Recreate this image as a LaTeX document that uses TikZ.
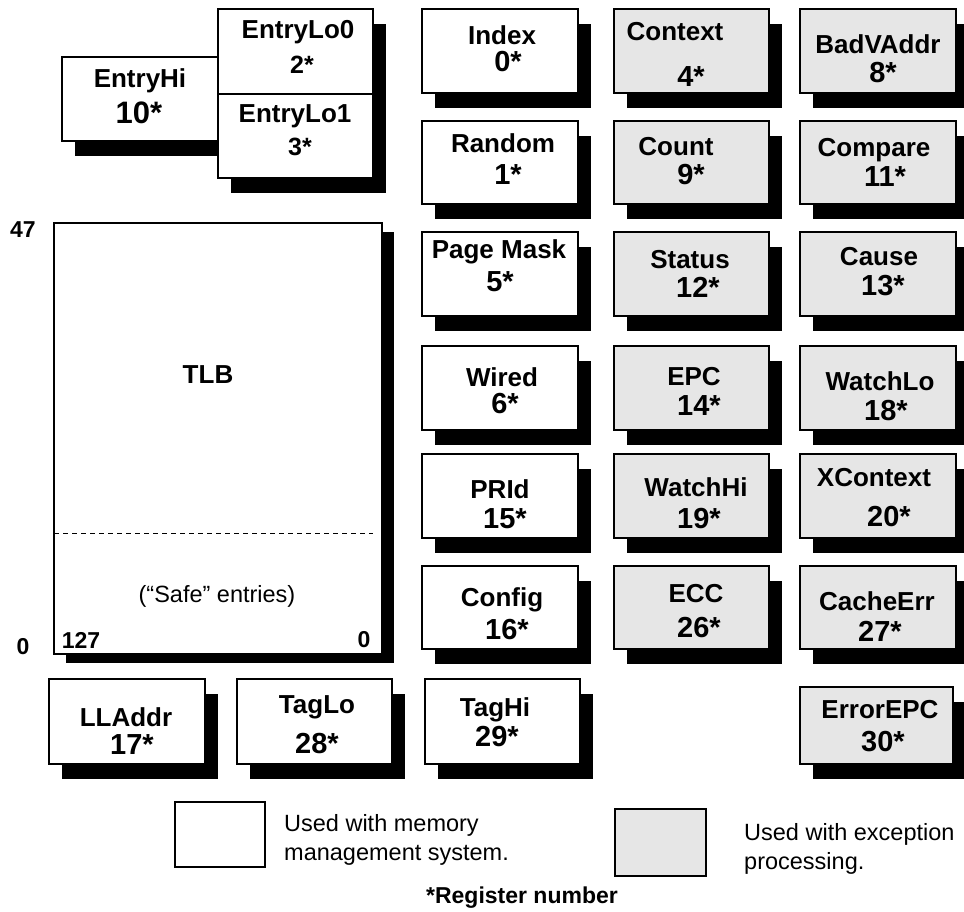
\documentclass[tikz,border=0pt]{standalone}
\usepackage{fontspec}
\setmainfont{Liberation Sans}
\usetikzlibrary{shadows}
\definecolor{excgray}{HTML}{E6E6E6}
\tikzset{
  regbox/.style={draw=black, line width=1.3pt, fill=white, inner sep=0pt, outer sep=0pt,
    drop shadow={shadow xshift=13pt, shadow yshift=-15pt, fill=black, opacity=1}},
  excbox/.style={regbox, fill=excgray},
  tlbbox/.style={draw=black, line width=1.3pt, fill=white, inner sep=0pt, outer sep=0pt,
    drop shadow={shadow xshift=12pt, shadow yshift=-9pt, fill=black, opacity=1}},
  legbox/.style={draw=black, line width=1.3pt, inner sep=0pt, outer sep=0pt},
  nm/.style={inner sep=0pt, font=\fontsize{26}{30}\selectfont\bfseries},
  nv/.style={inner sep=0pt, font=\fontsize{29}{32}\selectfont\bfseries},
  nvbig/.style={inner sep=0pt, font=\fontsize{31}{34}\selectfont\bfseries},
  nvsmall/.style={inner sep=0pt, font=\fontsize{25}{30}\selectfont\bfseries},
  idx/.style={inner sep=0pt, font=\fontsize{23}{28}\selectfont\bfseries},
  plain/.style={inner sep=0pt, font=\fontsize{23.5}{29}\selectfont},
  legtext/.style={inner sep=0pt, align=left, anchor=west, font=\fontsize{23.5}{29}\selectfont},
}
\newcommand\regbox[6]{\node[#6, minimum width={(#4)-(#2)}, minimum height={(#5)-(#3)}] (#1) at ({((#2)+(#4))/2},{((#3)+(#5))/2}) {};}
\begin{document}
\begin{tikzpicture}[x=1pt, y=-1pt]
\clip (0,0) rectangle (964,911);
\fill[white] (0,0) rectangle (964,911);

% EntryHi / EntryLo group
\regbox{entryhi}{62}{57}{218}{141}{regbox}
\regbox{entrylo0}{218}{9}{373}{94}{regbox}
\regbox{entrylo1}{218}{94}{373}{178}{regbox}
\node[nm] (entryhi-n) at (140,81) {EntryHi};
\node[nvbig] (entryhi-v) at (139,113) {10*};
\node[nm] (entrylo0-n) at (298,32) {EntryLo0};
\node[nvsmall] (entrylo0-v) at (302,65) {2*};
\node[nm] (entrylo1-n) at (295,116) {EntryLo1};
\node[nvsmall] (entrylo1-v) at (300,147) {3*};

% TLB
\regbox{tlb}{54}{223}{382}{654}{tlbbox}
\coordinate (safe-l) at (54,533);
\coordinate (safe-r) at (373,533);
\draw[line width=1pt, dash pattern=on 5pt off 4pt] (safe-l) -- (safe-r);
\node[nm] (tlb-n) at (208,375) {TLB};
\node[plain] (tlb-safe) at (217,596) {(“Safe” entries)};
\node[idx] (tlb-127) at (81,640) {127};
\node[idx] (tlb-0in) at (364,640) {0};
\node[idx] (tlb-47) at (23,230) {47};
\node[idx] (tlb-0out) at (23,647) {0};

% Column A (memory management)
\regbox{index}{422}{9}{578}{93}{regbox}
\node[nm] (index-n) at (502,35) {Index};
\node[nv] (index-v) at (508,62) {0*};
\regbox{random}{422}{121}{578}{204}{regbox}
\node[nm] (random-n) at (503,143) {Random};
\node[nv] (random-v) at (508,175) {1*};
\regbox{pagemask}{422}{232}{578}{316}{regbox}
\node[nm] (pagemask-n) at (499,252) {Page Mask};
\node[nv] (pagemask-v) at (500,282) {5*};
\regbox{wired}{422}{346}{578}{430}{regbox}
\node[nm] (wired-n) at (502,377) {Wired};
\node[nv] (wired-v) at (505,404) {6*};
\regbox{prid}{422}{454}{578}{538}{regbox}
\node[nm] (prid-n) at (500,489) {PRId};
\node[nv] (prid-v) at (505,519) {15*};
\regbox{config}{422}{566}{578}{649}{regbox}
\node[nm] (config-n) at (502,600) {Config};
\node[nv] (config-v) at (507,630) {16*};
\regbox{taghi}{425}{679}{580}{764}{regbox}
\node[nm] (taghi-n) at (495,710) {TagHi};
\node[nv] (taghi-v) at (497,737) {29*};

% Column B (exception)
\regbox{context}{614}{9}{769}{93}{excbox}
\node[nm] (context-n) at (675,32) {Context};
\node[nv] (context-v) at (691,77) {4*};
\regbox{count}{614}{121}{769}{204}{excbox}
\node[nm] (count-n) at (676,147) {Count};
\node[nv] (count-v) at (691,175) {9*};
\regbox{status}{614}{232}{769}{316}{excbox}
\node[nm] (status-n) at (690,260) {Status};
\node[nv] (status-v) at (698,287) {12*};
\regbox{epc}{614}{346}{769}{430}{excbox}
\node[nm] (epc-n) at (694,377) {EPC};
\node[nv] (epc-v) at (699,406) {14*};
\regbox{watchhi}{614}{454}{769}{538}{excbox}
\node[nm] (watchhi-n) at (696,487) {WatchHi};
\node[nv] (watchhi-v) at (699,519) {19*};
\regbox{ecc}{614}{566}{769}{649}{excbox}
\node[nm] (ecc-n) at (696,594) {ECC};
\node[nv] (ecc-v) at (699,628) {26*};

% Column C (exception)
\regbox{badvaddr}{800}{9}{956}{93}{excbox}
\node[nm] (badvaddr-n) at (878,44) {BadVAddr};
\node[nv] (badvaddr-v) at (883,73) {8*};
\regbox{compare}{800}{121}{956}{204}{excbox}
\node[nm] (compare-n) at (874,150) {Compare};
\node[nv] (compare-v) at (885,177) {11*};
\regbox{cause}{800}{232}{956}{316}{excbox}
\node[nm] (cause-n) at (879,257) {Cause};
\node[nv] (cause-v) at (883,286) {13*};
\regbox{watchlo}{800}{346}{956}{430}{excbox}
\node[nm] (watchlo-n) at (880,381) {WatchLo};
\node[nv] (watchlo-v) at (886,411) {18*};
\regbox{xcontext}{800}{454}{956}{538}{excbox}
\node[nm] (xcontext-n) at (874,478) {XContext};
\node[nv] (xcontext-v) at (889,517) {20*};
\regbox{cacheerr}{800}{566}{956}{649}{excbox}
\node[nm] (cacheerr-n) at (877,601) {CacheErr};
\node[nv] (cacheerr-v) at (880,631) {27*};
\regbox{errorepc}{800}{687}{953}{764}{excbox}
\node[nm] (errorepc-n) at (880,710) {ErrorEPC};
\node[nv] (errorepc-v) at (883,742) {30*};

% Bottom row
\regbox{lladdr}{49}{679}{205}{764}{regbox}
\node[nm] (lladdr-n) at (126,717) {LLAddr};
\node[nv] (lladdr-v) at (132,745) {17*};
\regbox{taglo}{237}{679}{392}{764}{regbox}
\node[nm] (taglo-n) at (317,707) {TagLo};
\node[nv] (taglo-v) at (317,744) {28*};

% Legend
\regbox{legmem}{175}{802}{265}{867}{legbox, fill=white}
\node[legtext] (legmem-t) at (284,840) {Used with memory\\management system.};
\regbox{legexc}{615}{809}{706}{876}{legbox, fill=excgray}
\node[legtext] (legexc-t) at (744,849) {Used with exception\\processing.};
\node[idx] (regnum) at (522,898) {*Register number};
\end{tikzpicture}
\end{document}
